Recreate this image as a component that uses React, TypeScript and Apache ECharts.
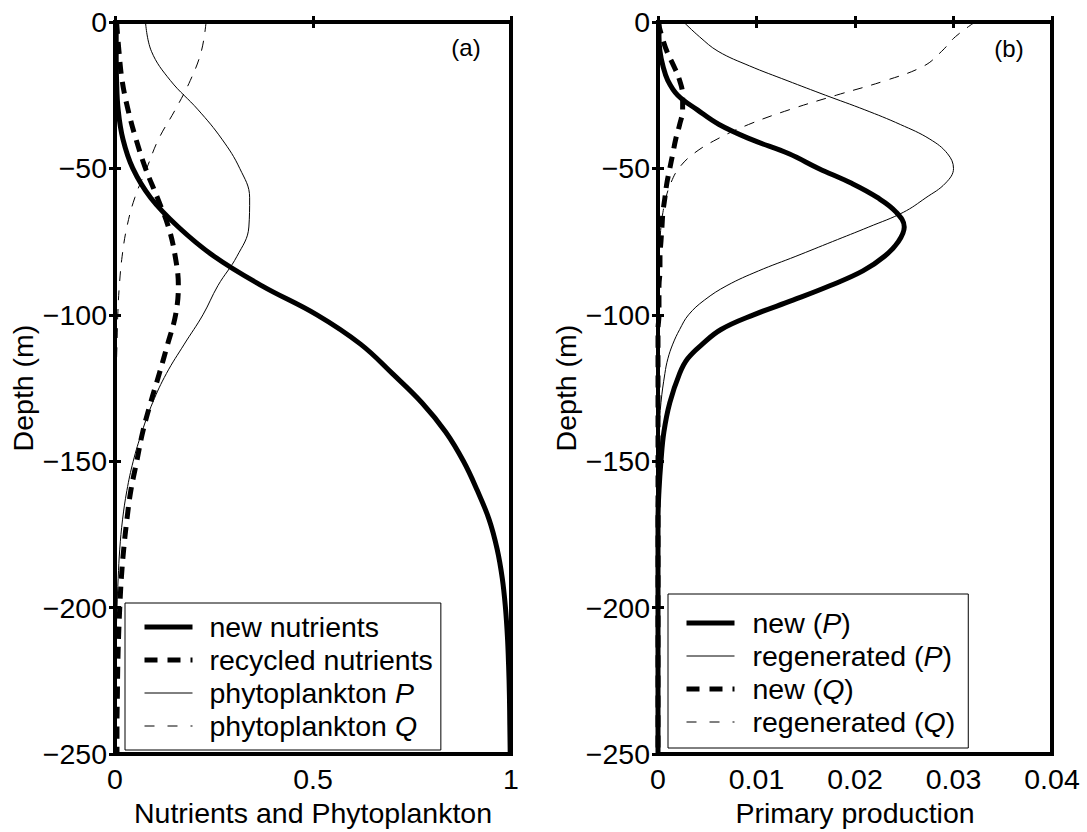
import React, { useEffect, useRef } from "react";
import * as echarts from "echarts";

const FONT = '"Liberation Sans", Arial, Helvetica, sans-serif';
const FS = 28.5;

// ---------- Panel (a): depth grid every 10 m ----------
const depthA = [0, -10, -20, -30, -40, -50, -60, -70, -80, -90, -100, -110, -120, -130, -140, -150, -160, -170, -180, -190, -200, -210, -220, -230, -240, -250];
const newNutrients = [0.003, 0.003, 0.004, 0.008, 0.02, 0.045, 0.09, 0.16, 0.25, 0.37, 0.51, 0.62, 0.70, 0.775, 0.835, 0.88, 0.915, 0.945, 0.965, 0.978, 0.986, 0.991, 0.994, 0.996, 0.997, 0.998];
const recycledNutrients = [0.004, 0.01, 0.018, 0.033, 0.053, 0.077, 0.107, 0.135, 0.152, 0.16, 0.153, 0.133, 0.112, 0.09, 0.07, 0.055, 0.04, 0.03, 0.022, 0.016, 0.012, 0.009, 0.007, 0.006, 0.005, 0.005];
const phytoP = [0.077, 0.092, 0.14, 0.21, 0.27, 0.315, 0.34, 0.338, 0.308, 0.26, 0.222, 0.175, 0.13, 0.095, 0.068, 0.046, 0.03, 0.019, 0.012, 0.008, 0.005, 0.003, 0.002, 0.001, 0.001, 0.001];
const phytoQ = [0.23, 0.218, 0.19, 0.152, 0.11, 0.08, 0.05, 0.03, 0.018, 0.011, 0.007, 0.005, 0.003, 0.002, 0.002, 0.001, 0.001, 0.001, 0.001, 0.001, 0.001, 0.001, 0.001, 0.001, 0.001, 0.001];

// ---------- Panel (b): depth grid every 5 m to -120, then every 10 m ----------
const depthB = [0, -5, -10, -15, -20, -25, -30, -35, -40, -45, -50, -55, -60, -65, -70, -75, -80, -85, -90, -95, -100, -105, -110, -115, -120, -130, -140, -150, -160, -170, -180, -190, -200, -210, -220, -230, -240, -250];
const newP = [0.0001, 0.0001, 0.0002, 0.0005, 0.001, 0.002, 0.004, 0.0062, 0.0094, 0.0133, 0.0163, 0.0196, 0.0223, 0.0242, 0.025, 0.0244, 0.023, 0.0208, 0.0175, 0.0137, 0.0097, 0.0064, 0.0045, 0.003, 0.0022, 0.0012, 0.0006, 0.0003, 0.0001, 0, 0, 0, 0, 0, 0, 0, 0, 0];
const regenP = [0.0026, 0.0042, 0.0061, 0.0093, 0.0131, 0.017, 0.021, 0.0246, 0.0276, 0.0294, 0.03, 0.0292, 0.0272, 0.0249, 0.0214, 0.0177, 0.014, 0.0102, 0.007, 0.0047, 0.0031, 0.0022, 0.0015, 0.001, 0.0007, 0.0003, 0.0001, 0, 0, 0, 0, 0, 0, 0, 0, 0, 0, 0];
const newQ = [0, 0.0004, 0.0009, 0.0016, 0.0022, 0.0025, 0.0025, 0.0022, 0.0018, 0.0015, 0.0012, 0.0009, 0.0007, 0.0005, 0.0004, 0.0003, 0.0002, 0.0002, 0.0001, 0.0001, 0.0001, 0, 0, 0, 0, 0, 0, 0, 0, 0, 0, 0, 0, 0, 0, 0, 0, 0];
const regenQ = [0.0322, 0.0302, 0.0288, 0.027, 0.0231, 0.0181, 0.0133, 0.0092, 0.006, 0.0036, 0.0021, 0.0013, 0.0008, 0.0005, 0.0003, 0.0002, 0.0001, 0, 0, 0, 0, 0, 0, 0, 0, 0, 0, 0, 0, 0, 0, 0, 0, 0, 0, 0, 0, 0];

const legendA = ["new nutrients", "recycled nutrients", "phytoplankton P", "phytoplankton Q"];
const legendB = ["new (P)", "regenerated (P)", "new (Q)", "regenerated (Q)"];

const THICK = 5;
const THIN = 1;
const thickDash = [12, 8];
const thinDash = [10, 9];
const legendThickDash = [13, 10];
const legendThinDash = [10, 13];

// style of each series: [width, dash in plot, dash in legend]
const stylesA: [number, any, any][] = [[THICK, "solid", "solid"], [THICK, thickDash, legendThickDash], [THIN, "solid", "solid"], [THIN, thinDash, legendThinDash]];
const stylesB: [number, any, any][] = [[THICK, "solid", "solid"], [THIN, "solid", "solid"], [THICK, thickDash, legendThickDash], [THIN, thinDash, legendThinDash]];

function pairs(vals: number[], depths: number[]) {
  return depths.map((d, i) => [vals[i], d]);
}

function lineSeries(name: string, vals: number[], depths: number[], axis: number, st: [number, any, any]) {
  return {
    type: "line",
    name,
    xAxisIndex: axis,
    yAxisIndex: axis,
    data: pairs(vals, depths),
    showSymbol: false,
    symbol: "none",
    smooth: 0.4,
    lineStyle: { color: "#000", width: st[0], type: st[1], cap: "butt", join: "round" },
    itemStyle: { color: "#000" },
    z: 3,
  };
}

const depthFmt = (v: number) => (v < 0 ? "\u2212" + Math.abs(v) : String(v));

function xAxes(grid: number, max: number, interval: number, name: string, fmt?: (v: number) => string) {
  const common = {
    type: "value",
    gridIndex: grid,
    min: 0,
    max,
    interval,
    splitLine: { show: false },
    axisLine: { show: false },
    axisTick: { show: true, inside: true, length: 6, lineStyle: { color: "#000", width: 3 } },
  };
  return [
    {
      ...common,
      position: "bottom",
      name,
      nameLocation: "middle",
      nameGap: 41,
      nameTextStyle: { fontSize: FS, fontFamily: FONT, color: "#000" },
      axisLabel: { show: true, margin: 10, fontSize: FS, fontFamily: FONT, color: "#000", formatter: fmt },
    },
    { ...common, position: "top", axisLabel: { show: false } },
  ];
}

function yAxes(grid: number) {
  const common = {
    type: "value",
    gridIndex: grid,
    min: -250,
    max: 0,
    interval: 50,
    splitLine: { show: false },
    axisLine: { show: false },
    axisTick: { show: true, inside: true, length: 6, lineStyle: { color: "#000", width: 3 } },
  };
  return [
    {
      ...common,
      position: "left",
      name: "Depth (m)",
      nameLocation: "middle",
      nameGap: 78,
      nameTextStyle: { fontSize: FS, fontFamily: FONT, color: "#000" },
      axisLabel: { show: true, margin: 8, fontSize: FS, fontFamily: FONT, color: "#000", formatter: depthFmt },
    },
    { ...common, position: "right", axisLabel: { show: false } },
  ];
}

function legend(names: string[], styles: [number, any, any][], left: number, top: number, padding: number[], textPad: number, fmt: (n: string) => string) {
  return {
    show: true,
    orient: "vertical",
    left,
    top,
    data: names.map((n, i) => ({
      name: n,
      itemStyle: { opacity: 0 },
      lineStyle: { color: "#000", width: styles[i][0], type: styles[i][2], cap: "butt" },
    })),
    itemWidth: 48,
    itemHeight: 20,
    itemGap: 0,
    padding,
    borderColor: "#000",
    borderWidth: 1,
    backgroundColor: "#fff",
    selectedMode: false,
    formatter: fmt,
    itemStyle: { opacity: 0 },
    textStyle: {
      fontSize: FS,
      fontFamily: FONT,
      color: "#000",
      lineHeight: 33,
      padding: [0, 0, 0, textPad],
      rich: {
        i: { fontStyle: "italic", fontSize: FS, fontFamily: FONT, color: "#000", lineHeight: 33 },
      },
    },
  };
}

export default function App() {
  const ref = useRef<HTMLDivElement>(null);

  useEffect(() => {
    if (!ref.current) return;
    const chart = echarts.init(ref.current, null, { renderer: "svg" });
    const option = {
      animation: false,
      backgroundColor: "#fff",
      grid: [
        { left: 115, right: 1087 - 511, top: 22, bottom: 832 - 759, show: true, borderColor: "#000", borderWidth: 4, backgroundColor: "transparent" },
        { left: 658, right: 1087 - 1052, top: 22, bottom: 832 - 759, show: true, borderColor: "#000", borderWidth: 4, backgroundColor: "transparent" },
      ],
      xAxis: [
        ...xAxes(0, 1, 0.5, "Nutrients and Phytoplankton"),
        ...xAxes(1, 0.04, 0.01, "Primary production", (v: number) => (v === 0 ? "0" : v.toFixed(2))),
      ],
      yAxis: [...yAxes(0), ...yAxes(1)],
      legend: [
        legend(legendA, stylesA, 125, 603, [7.5, 8, 7.5, 17], 12, (n: string) => n.replace(/ (P|Q)$/, " {i|$1}")),
        legend(legendB, stylesB, 668, 594, [12.5, 13, 9.5, 16], 13, (n: string) => n.replace(/\((P|Q)\)/, "({i|$1})")),
      ],
      graphic: [
        { type: "text", x: 466, y: 47, style: { text: "(a)", fontSize: 24, fontFamily: FONT, fill: "#000", textAlign: "center", textVerticalAlign: "middle" }, z: 10 },
        { type: "text", x: 1009, y: 48, style: { text: "(b)", fontSize: 24, fontFamily: FONT, fill: "#000", textAlign: "center", textVerticalAlign: "middle" }, z: 10 },
      ],
      series: [
        ...[newNutrients, recycledNutrients, phytoP, phytoQ].map((v, i) => lineSeries(legendA[i], v, depthA, 0, stylesA[i])),
        ...[newP, regenP, newQ, regenQ].map((v, i) => lineSeries(legendB[i], v, depthB, 2, stylesB[i])),
      ],
    };
    chart.setOption(option as any);
    return () => chart.dispose();
  }, []);

  return (
    <div
      ref={ref}
      style={{ position: "fixed", left: 0, top: 0, width: 1087, height: 832, background: "#fff" }}
    />
  );
}
